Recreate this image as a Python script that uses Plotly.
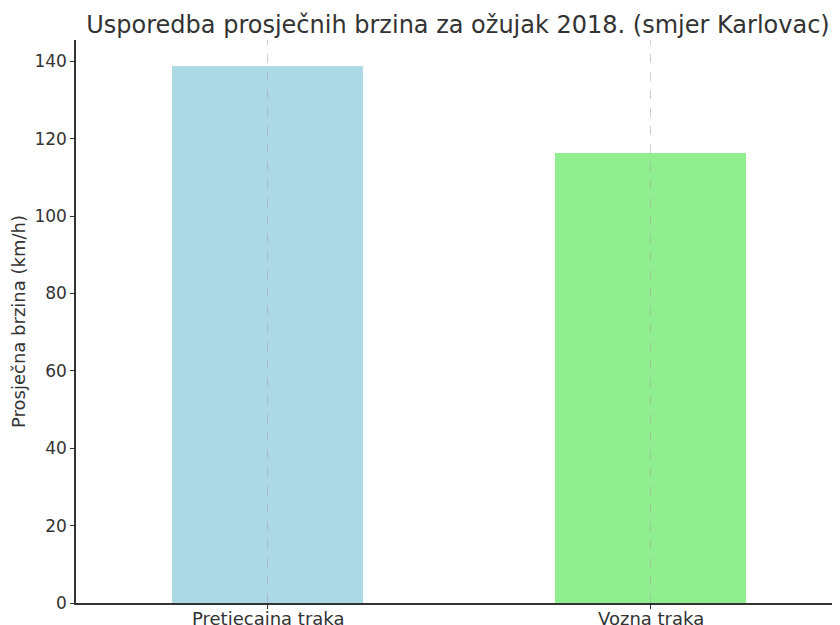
import plotly.graph_objects as go

categories = ["Pretjecajna traka", "Vozna traka"]
speeds = [138.7, 116.3]
colors = ["#ADD8E6", "#90EE90"]
y_ticks = [0, 20, 40, 60, 80, 100, 120, 140]

fig = go.Figure()
fig.add_trace(go.Bar(
    x=categories, y=speeds, marker=dict(color=colors, line=dict(width=0)),
    width=0.5,
))

W, H = 840, 625
OFF = 8  # page body offset
L, R, T, B = 76 - OFF, 6, 40 - OFF, 30
TXT = "#333333"

for c in categories:
    fig.add_annotation(x=c, y=0, xref="x", yref="y", text=c, showarrow=False,
                       yanchor="top", yshift=-3, font=dict(size=18, color=TXT))
    # vertical dashed grid line drawn over the bars (matplotlib style)
    fig.add_shape(type="line", xref="x", yref="paper", x0=c, x1=c, y0=0, y1=1,
                  layer="above", line=dict(color="rgba(160,160,160,0.5)", width=1, dash="dash"))

fig.update_layout(
    width=W, height=H,
    margin=dict(l=L, r=R, t=T, b=B),
    plot_bgcolor="white", paper_bgcolor="white",
    font=dict(family="DejaVu Sans", size=17, color=TXT),
    title=dict(text="Usporedba prosječnih brzina za ožujak 2018. (smjer Karlovac)",
               x=(458 - OFF) / W, xanchor="center", y=1 - (25 - OFF) / H, yanchor="middle",
               font=dict(size=24, color=TXT)),
    showlegend=False,
    bargap=0,
)
fig.update_xaxes(
    type="category", range=[-0.5, 1.5], automargin=False,
    showline=True, linecolor=TXT, linewidth=1.5,
    ticks="outside", ticklen=4, tickcolor=TXT, showticklabels=False,
    showgrid=False,
    layer="above traces",
)
fig.update_yaxes(
    range=[0, 145.5], tickvals=y_ticks, automargin=False,
    showline=True, linecolor=TXT, linewidth=1.5,
    ticks="outside", ticklen=4, tickcolor=TXT,
    showgrid=False, zeroline=False,
    title=dict(text="Prosječna brzina (km/h)", font=dict(size=18, color=TXT)),
    tickfont=dict(size=17, color=TXT),
)
fig.write_html("out.html")
